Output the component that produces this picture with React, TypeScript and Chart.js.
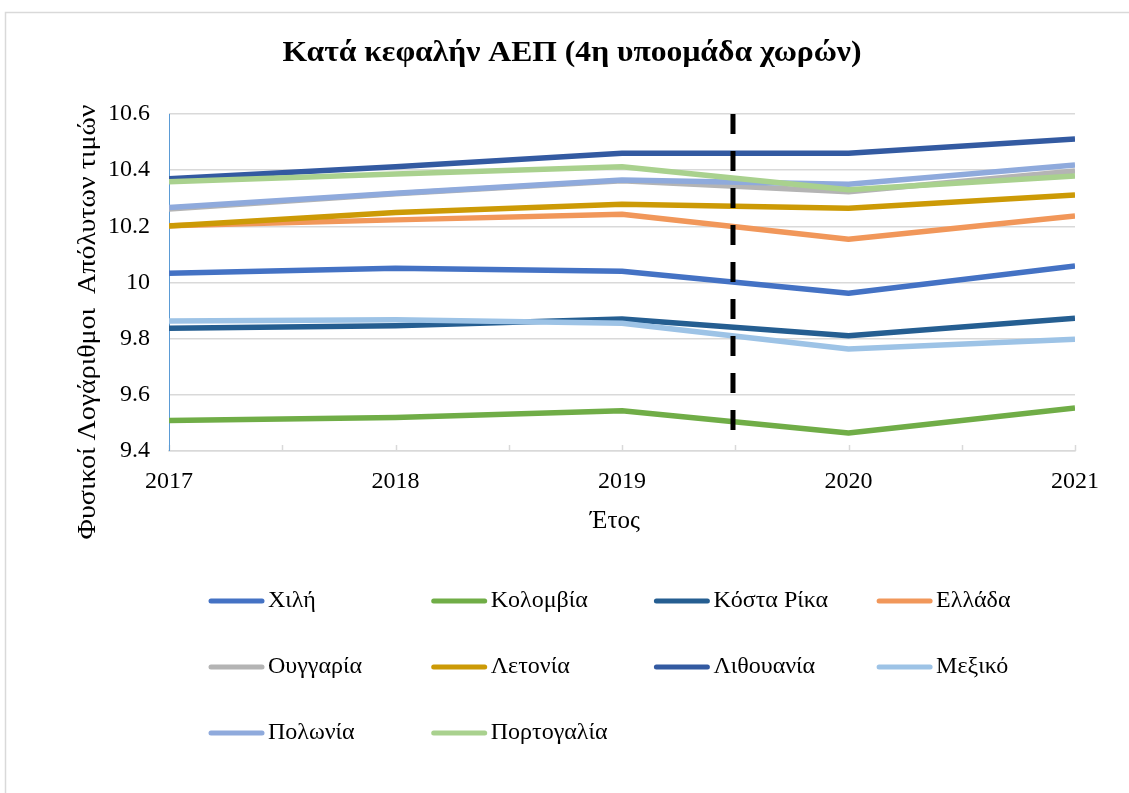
import React, { useEffect, useRef } from 'react';
import { Chart, registerables } from 'chart.js';

Chart.register(...registerables);

const chartTitle = 'Κατά κεφαλήν ΑΕΠ (4η υποομάδα χωρών)';
const yTitle = 'Φυσικοί Λογάριθμοι  Απόλυτων τιμών';
const xTitle = 'Έτος';

const years = [2017, 2018, 2019, 2020, 2021];
const yTicks = [9.4, 9.6, 9.8, 10, 10.2, 10.4, 10.6];

const countries = ['Χιλή', 'Κολομβία', 'Κόστα Ρίκα', 'Ελλάδα', 'Ουγγαρία', 'Λετονία', 'Λιθουανία', 'Μεξικό', 'Πολωνία', 'Πορτογαλία'];

const chile = [10.033, 10.051, 10.04, 9.962, 10.059];
const colombia = [9.509, 9.519, 9.543, 9.464, 9.553];
const costaRica = [9.837, 9.846, 9.87, 9.81, 9.873];
const greece = [10.202, 10.223, 10.243, 10.154, 10.237];
const hungary = [10.262, 10.316, 10.362, 10.323, 10.397];
const latvia = [10.201, 10.249, 10.279, 10.264, 10.312];
const lithuania = [10.369, 10.412, 10.46, 10.46, 10.511];
const mexico = [9.863, 9.867, 9.855, 9.763, 9.798];
const poland = [10.267, 10.318, 10.365, 10.35, 10.418];
const portugal = [10.359, 10.386, 10.412, 10.33, 10.379];

const seriesValues = [chile, colombia, costaRica, greece, hungary, latvia, lithuania, mexico, poland, portugal];
const colors = ['#4472C4', '#70AD47', '#255E91', '#F1975A', '#B4B4B4', '#CC9A06', '#335AA1', '#9DC3E6', '#8FAADC', '#A9D18E'];

const dividerYear = 2019.49;
const dividerRange = [9.465, 10.6];

const FONT = '"Liberation Serif", "Times New Roman", serif';

function fitText(ctx: any, text: string, x: number, y: number, targetWidth: number) {
  const w = ctx.measureText(text).width;
  const s = targetWidth / w;
  ctx.save();
  ctx.translate(x, y);
  ctx.scale(s, 1);
  ctx.fillText(text, 0, 0);
  ctx.restore();
}

const decorPlugin = {
  id: 'decor',
  beforeDraw(chart: any) {
    const { ctx, width, height } = chart;
    ctx.save();
    ctx.fillStyle = '#FFFFFF';
    ctx.fillRect(0, 0, width, height);
    ctx.strokeStyle = '#D9D9D9';
    ctx.lineWidth = 1.5;
    ctx.strokeRect(5.5, 12.5, width + 20, height + 20);
    ctx.fillStyle = '#000000';
    ctx.font = 'bold 30px ' + FONT;
    ctx.textAlign = 'center';
    ctx.textBaseline = 'middle';
    fitText(ctx, chartTitle, 572, 53, 579);
    ctx.restore();
  },
  beforeDatasetsDraw(chart: any) {
    const { ctx, chartArea, scales } = chart;
    const xs = scales.x;
    ctx.save();
    ctx.strokeStyle = '#D9D9D9';
    ctx.lineWidth = 1.5;
    for (let v = years[0]; v <= years[years.length - 1] + 1e-9; v += 0.5) {
      const px = Math.round(xs.getPixelForValue(v)) + 0.5;
      ctx.beginPath();
      ctx.moveTo(px, chartArea.bottom);
      ctx.lineTo(px, chartArea.bottom - 6);
      ctx.stroke();
    }
    ctx.strokeStyle = '#5B9BD5';
    ctx.lineWidth = 1;
    ctx.beginPath();
    ctx.moveTo(chartArea.left + 0.5, chartArea.top);
    ctx.lineTo(chartArea.left + 0.5, chartArea.bottom);
    ctx.stroke();
    ctx.restore();
  },
  afterDatasetsDraw(chart: any) {
    const { ctx, scales } = chart;
    const px = scales.x.getPixelForValue(dividerYear);
    ctx.save();
    ctx.strokeStyle = '#000000';
    ctx.lineWidth = 5;
    ctx.setLineDash([20, 17]);
    ctx.beginPath();
    ctx.moveTo(px, scales.y.getPixelForValue(dividerRange[1]));
    ctx.lineTo(px, scales.y.getPixelForValue(dividerRange[0]));
    ctx.stroke();
    ctx.restore();
  },
  afterDraw(chart: any) {
    const { ctx } = chart;
    ctx.save();
    ctx.fillStyle = '#000000';
    ctx.font = '25px ' + FONT;
    ctx.textAlign = 'center';
    ctx.textBaseline = 'middle';
    ctx.fillText(xTitle, 615, 521);
    ctx.save();
    ctx.translate(88, 322);
    ctx.rotate(-Math.PI / 2);
    ctx.font = '25px ' + FONT;
    fitText(ctx, yTitle, 0, 0, 435);
    ctx.restore();
    const ds = chart.data.datasets;
    ctx.textAlign = 'left';
    ctx.font = '24px ' + FONT;
    ds.forEach((d: any, i: number) => {
      const row = Math.floor(i / 4);
      const col = i % 4;
      const x0 = 211 + col * 222.7;
      const y = 601 + row * 66;
      ctx.strokeStyle = d.borderColor;
      ctx.lineWidth = 5;
      ctx.lineCap = 'round';
      ctx.beginPath();
      ctx.moveTo(x0, y);
      ctx.lineTo(x0 + 51, y);
      ctx.stroke();
      ctx.fillStyle = '#000000';
      ctx.fillText(d.label, x0 + 57, y);
    });
    ctx.restore();
  },
};

export default function App() {
  const canvasRef = useRef<HTMLCanvasElement>(null);

  useEffect(() => {
    const canvas = canvasRef.current;
    if (!canvas) return;
    const n = countries.length;
    const chart = new Chart(canvas, {
      type: 'line',
      data: {
        datasets: countries.map((name, i) => ({
          label: name,
          data: years.map((yr, j) => ({ x: yr, y: seriesValues[i][j] })),
          borderColor: colors[i],
          backgroundColor: colors[i],
          borderWidth: 5.5,
          pointRadius: 0,
          pointHoverRadius: 0,
          tension: 0,
          fill: false,
          order: n - 1 - i,
          borderJoinStyle: 'round',
        })),
      },
      options: {
        responsive: false,
        animation: false,
        events: [],
        layout: { padding: { top: 114, right: 54, left: 0, bottom: 0 } },
        plugins: {
          legend: { display: false },
          title: { display: false },
          tooltip: { enabled: false },
        },
        scales: {
          x: {
            type: 'linear',
            min: years[0],
            max: years[years.length - 1],
            afterFit: (s: any) => { s.height = 793 - 451; },
            afterBuildTicks: (s: any) => { s.ticks = years.map((v) => ({ value: v })); },
            ticks: {
              color: '#000000',
              font: { family: FONT, size: 24 },
              padding: 16,
              maxRotation: 0,
              callback: (v: any) => String(v),
            },
            grid: { display: false, drawTicks: false },
            border: { display: true, color: '#D9D9D9', width: 1.5 },
          },
          y: {
            type: 'linear',
            min: yTicks[0],
            max: yTicks[yTicks.length - 1],
            afterFit: (s: any) => { s.width = 169; },
            afterBuildTicks: (s: any) => { s.ticks = yTicks.map((v) => ({ value: v })); },
            ticks: {
              color: '#000000',
              font: { family: FONT, size: 24 },
              padding: 19,
              callback: (v: any) => String(Math.round(v * 10) / 10),
            },
            grid: { color: '#D9D9D9', lineWidth: 1.5, drawTicks: false },
            border: { display: false },
          },
        },
      },
      plugins: [decorPlugin],
    });
    return () => chart.destroy();
  }, []);

  return (
    <div style={{ position: 'absolute', left: 0, top: 0, width: 1129, height: 793, background: '#fff' }}>
      <canvas ref={canvasRef} width={1129} height={793} style={{ display: 'block', width: 1129, height: 793 }} />
    </div>
  );
}
